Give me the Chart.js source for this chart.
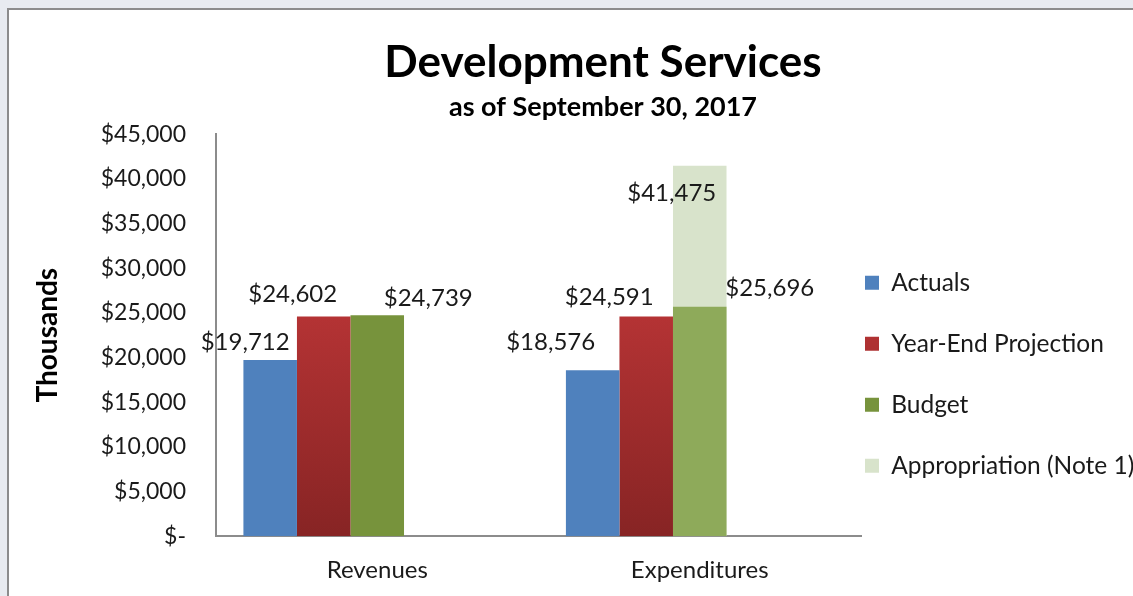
<!DOCTYPE html>
<html lang="en">

<head>
    <meta charset="UTF-8">
    <title>Development Services</title>
    <style>
        body {
            margin: 0;
            background-color: #e8ebf0;
            overflow: hidden;
            font-family: Lato, sans-serif;
        }

        .panel {
            position: absolute;
            left: 7px;
            top: 8px;
            width: 1200px;
            height: 620px;
            border-left: 2px solid #8c8c8c;
            border-top: 2px solid #8c8c8c;
            background-color: #fff;
        }

        canvas {
            display: block;
        }
    </style>
    <script src="https://cdn.jsdelivr.net/npm/chart.js@4"></script>
</head>

<body>
    <div class="panel">
        <canvas id="devChart" width="1188" height="595"></canvas>
    </div>
    <script>
        const categories = ["Revenues", "Expenditures"];
        const actuals = [19712, 18576];
        const yearEndProjection = [24602, 24591];
        const budget = [24739, 25696];
        const appropriation = [null, 41475];
        // the source workbook keeps two empty series slots after Budget
        const emptySeries = [null, null];
        const yMin = 0;
        const yMax = 45000;
        const yStep = 5000;

        // where each value label sits relative to the top of its bar
        const labelOffsets = [
            [[-25, -18], [-42, -28]],
            [[-31, -22], [-37, -19]],
            [[51, -17], [70, -18]],
            [null, [-28, 28]]
        ];

        function money(v) {
            return v === 0 ? "$-" : "$" + v.toLocaleString("en-US");
        }

        function barGradient(top, bottom) {
            return (ctx) => {
                if (ctx.type !== "data" || ctx.raw == null) return top;
                const chart = ctx.chart;
                const y = chart.scales.y;
                if (!y || !chart.chartArea) return top;
                const g = chart.ctx.createLinearGradient(0, y.getPixelForValue(ctx.raw), 0, y.getPixelForValue(0));
                g.addColorStop(0, top);
                g.addColorStop(1, bottom);
                return g;
            };
        }

        const barLabels = {
            id: "barLabels",
            afterDatasetsDraw(chart) {
                const ctx = chart.ctx;
                ctx.save();
                ctx.font = "24px Lato";
                ctx.fillStyle = "#1a1a1a";
                ctx.textAlign = "center";
                ctx.textBaseline = "middle";
                chart.data.datasets.forEach((ds, di) => {
                    const offs = labelOffsets[di];
                    if (!offs) return;
                    chart.getDatasetMeta(di).data.forEach((bar, i) => {
                        const v = ds.data[i];
                        if (v == null || !offs[i]) return;
                        ctx.fillText(money(v), bar.x + offs[i][0], bar.y + offs[i][1]);
                    });
                });
                ctx.restore();
            }
        };

        // title centred over the whole canvas, legend just right of the plot
        const placeBoxes = {
            id: "placeBoxes",
            afterLayout(chart) {
                chart.boxes.forEach((b) => {
                    if (b.options && typeof b.options.text === "string") {
                        b.left = 0;
                        b.right = chart.width;
                        b.width = chart.width;
                    }
                });
                const lg = chart.legend;
                const area = chart.chartArea;
                const pad = lg.options.labels.padding;
                lg.left = area.right + 4 - pad;
                lg.right = chart.width;
                lg.width = lg.right - lg.left;
                lg.top = area.top + 39;
                lg.bottom = area.bottom + 39;
            }
        };

        const budgetColors = ["#77933c", "#8eaa5a"];

        new Chart(document.getElementById("devChart"), {
            type: "bar",
            data: {
                labels: categories,
                datasets: [
                    {
                        label: "Actuals",
                        data: actuals,
                        backgroundColor: "#4f81bd",
                        stack: "a"
                    },
                    {
                        label: "Year-End Projection",
                        data: yearEndProjection,
                        backgroundColor: barGradient("#b43334", "#872424"),
                        stack: "b"
                    },
                    {
                        label: "Budget",
                        data: budget,
                        backgroundColor: (ctx) => ctx.type === "data" ? budgetColors[ctx.dataIndex] : budgetColors[0],
                        stack: "c"
                    },
                    {
                        label: "Appropriation (Note 1)",
                        data: appropriation,
                        backgroundColor: "#d8e3cb",
                        stack: "c"
                    },
                    { label: "", data: emptySeries, stack: "d" },
                    { label: "", data: emptySeries, stack: "e" }
                ]
            },
            options: {
                responsive: false,
                animation: false,
                categoryPercentage: 0.83,
                barPercentage: 1.0,
                layout: {
                    padding: { left: 0, right: 52, top: 0, bottom: 0 }
                },
                plugins: {
                    title: {
                        display: true,
                        text: "Development Services",
                        color: "#000",
                        font: { family: "Lato", size: 44, weight: "bold" },
                        padding: { top: 26, bottom: 0 }
                    },
                    subtitle: {
                        display: true,
                        text: "as of September 30, 2017",
                        color: "#000",
                        font: { family: "Lato", size: 27, weight: "bold" },
                        padding: { top: 2, bottom: 11 }
                    },
                    legend: {
                        position: "right",
                        labels: {
                            boxWidth: 14,
                            boxHeight: 14,
                            padding: 36.5,
                            color: "#1a1a1a",
                            font: { family: "Lato", size: 24.5 },
                            filter: (item) => item.text !== ""
                        }
                    },
                    tooltip: { enabled: false }
                },
                scales: {
                    x: {
                        grid: { display: false, drawTicks: false },
                        border: { display: true, color: "#8c8c8c", width: 2 },
                        ticks: {
                            color: "#1a1a1a",
                            padding: 20,
                            font: { family: "Lato", size: 24 }
                        }
                    },
                    y: {
                        stacked: false,
                        min: yMin,
                        max: yMax,
                        afterFit(scale) {
                            scale.width = 207;
                        },
                        grid: { display: false, drawTicks: false },
                        border: { display: true, color: "#8c8c8c", width: 2 },
                        ticks: {
                            stepSize: yStep,
                            color: "#1a1a1a",
                            padding: 30,
                            font: { family: "Lato", size: 23 },
                            callback: (v) => money(v)
                        },
                        title: {
                            display: true,
                            text: "Thousands",
                            color: "#000",
                            font: { family: "Lato", size: 28, weight: "bold" },
                            padding: { top: 22, bottom: 0 }
                        }
                    }
                }
            },
            plugins: [barLabels, placeBoxes]
        });
    </script>
</body>

</html>
